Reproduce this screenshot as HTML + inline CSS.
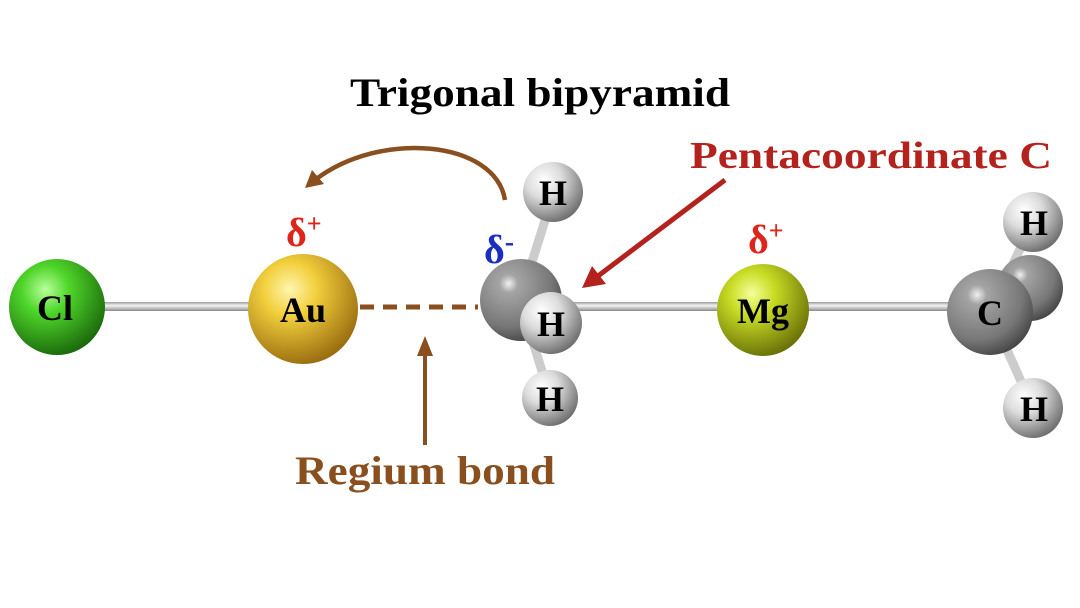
<!DOCTYPE html>
<html><head><meta charset="utf-8"><style>html,body{margin:0;padding:0;background:#fff}svg{display:block}</style></head>
<body>
<svg width="1080" height="608" viewBox="0 0 1080 608" xmlns="http://www.w3.org/2000/svg" font-family="Liberation Serif, serif" font-weight="bold">
<defs>
<radialGradient id="gCl" cx="0.38" cy="0.32" r="0.7"><stop offset="0" stop-color="#b8ff9a"/><stop offset="0.35" stop-color="#4fd62a"/><stop offset="1" stop-color="#1c6a0c"/></radialGradient>
<radialGradient id="gAu" cx="0.38" cy="0.32" r="0.7"><stop offset="0" stop-color="#fff6b0"/><stop offset="0.35" stop-color="#f2cf3c"/><stop offset="1" stop-color="#9a6e10"/></radialGradient>
<radialGradient id="gMg" cx="0.38" cy="0.32" r="0.7"><stop offset="0" stop-color="#f4ff9a"/><stop offset="0.35" stop-color="#c9dc24"/><stop offset="1" stop-color="#6a7208"/></radialGradient>
<radialGradient id="gC" cx="0.35" cy="0.3" r="0.75"><stop offset="0" stop-color="#f0f0f0"/><stop offset="0.15" stop-color="#a4a4a4"/><stop offset="0.7" stop-color="#777"/><stop offset="1" stop-color="#444"/></radialGradient>
<radialGradient id="gH" cx="0.35" cy="0.3" r="0.75"><stop offset="0" stop-color="#ffffff"/><stop offset="0.4" stop-color="#dcdcdc"/><stop offset="1" stop-color="#6a6a6a"/></radialGradient>
<linearGradient id="gB" x1="0" y1="0" x2="0" y2="1"><stop offset="0" stop-color="#9a9a9a"/><stop offset="0.4" stop-color="#f4f4f4"/><stop offset="1" stop-color="#8a8a8a"/></linearGradient>
</defs>
<rect x="60" y="302" width="240" height="9" fill="url(#gB)"/>
<rect x="540" y="302" width="450" height="9" fill="url(#gB)"/>
<line x1="520" y1="300" x2="553" y2="195" stroke="#ccc" stroke-width="9"/>
<line x1="520" y1="300" x2="550" y2="397" stroke="#ccc" stroke-width="9"/>
<line x1="990" y1="312" x2="1033" y2="222" stroke="#ccc" stroke-width="9"/>
<line x1="990" y1="312" x2="1033" y2="408" stroke="#ccc" stroke-width="9"/>
<line x1="360" y1="307" x2="478" y2="307" stroke="#8a4f1e" stroke-width="5" stroke-dasharray="14,9"/>
<circle cx="57" cy="307" r="48" fill="url(#gCl)"/>
<circle cx="303" cy="309" r="55" fill="url(#gAu)"/>
<circle cx="553" cy="192" r="30" fill="url(#gH)"/>
<circle cx="550" cy="398" r="28" fill="url(#gH)"/>
<circle cx="521" cy="300" r="41" fill="url(#gC)"/>
<circle cx="551" cy="323" r="31" fill="url(#gH)"/>
<circle cx="763" cy="310" r="46" fill="url(#gMg)"/>
<circle cx="1030" cy="288" r="33" fill="url(#gC)"/>
<circle cx="1033" cy="222" r="30" fill="url(#gH)"/>
<circle cx="1033" cy="408" r="30" fill="url(#gH)"/>
<circle cx="990" cy="312" r="43" fill="url(#gC)"/>
<g font-size="36" fill="#000" text-anchor="middle">
<text x="55" y="320">Cl</text>
<text x="303" y="322">Au</text>
<text x="763" y="323">Mg</text>
<text x="990" y="325">C</text>
<text x="553" y="205">H</text>
<text x="551" y="336">H</text>
<text x="550" y="411">H</text>
<text x="1034" y="235">H</text>
<text x="1034" y="421">H</text>
</g>
<text x="286" y="246" font-size="40" fill="#e0241a">δ<tspan font-size="26" dy="-14">+</tspan></text>
<text x="748" y="253" font-size="40" fill="#e0241a">δ<tspan font-size="26" dy="-14">+</tspan></text>
<text x="484" y="263" font-size="40" fill="#1a2fc0">δ<tspan font-size="28" dy="-12">-</tspan></text>
<text x="350" y="106" font-size="40" textLength="380" lengthAdjust="spacingAndGlyphs" fill="#000">Trigonal bipyramid</text>
<text x="690" y="168" font-size="38" textLength="362" lengthAdjust="spacingAndGlyphs" fill="#b3221c">Pentacoordinate C</text>
<text x="295" y="484" font-size="40" textLength="260" lengthAdjust="spacingAndGlyphs" fill="#8a4f1e">Regium bond</text>
<path d="M505,200 C495,140 380,130 315,180" fill="none" stroke="#8a4f1e" stroke-width="4.5"/>
<path d="M305,188 L312,170 L324,184 z" fill="#8a4f1e"/>
<line x1="425" y1="445" x2="425" y2="352" stroke="#8a4f1e" stroke-width="4"/>
<path d="M417,356 L425,336 L433,356 z" fill="#8a4f1e"/>
<line x1="725" y1="180" x2="598" y2="276" stroke="#b3221c" stroke-width="5"/>
<path d="M582,288 L592,266 L606,284 z" fill="#b3221c"/>
</svg>
</body></html>
